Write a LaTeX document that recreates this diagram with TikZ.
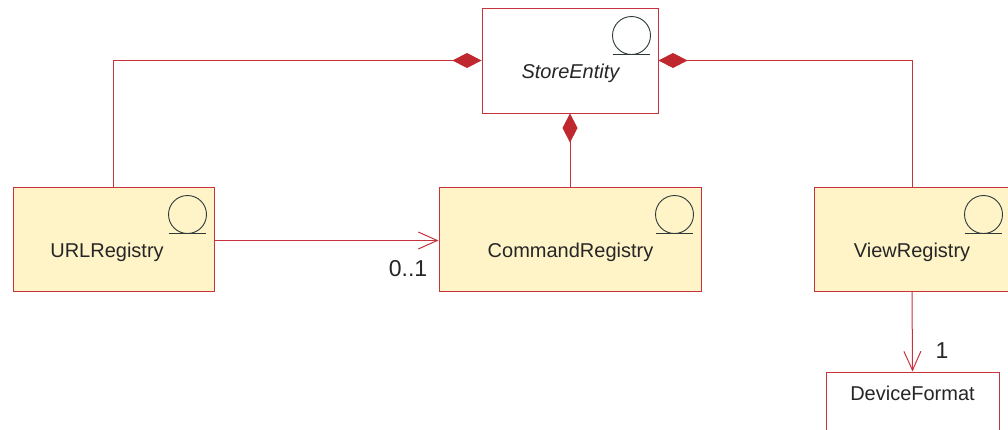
\documentclass[tikz,border=0pt]{standalone}
\usepackage{fontspec}
\setmainfont{Liberation Sans}
\usetikzlibrary{arrows.meta,calc}
\definecolor{umlred}{HTML}{C8323C}
\definecolor{diared}{HTML}{C0282F}
\definecolor{umlfill}{HTML}{FFF3C8}
\definecolor{icongray}{HTML}{2E3A3A}
\tikzset{
  clsbox/.style={draw=umlred, line width=1pt, inner sep=0pt, minimum height=104pt},
  entbox/.style={clsbox, fill=umlfill},
  lbl/.style={font=\fontsize{20}{24}\selectfont, text=black!85, inner sep=0pt},
  mult/.style={font=\fontsize{23}{27}\selectfont, text=black!85, inner sep=0pt},
  conn/.style={draw=umlred, line width=1pt},
  comp/.style={conn, {Diamond[length=29pt,width=15pt,fill=diared,color=diared]}-},
  nav/.style={conn, -{Straight Barb[length=19pt,width=17pt,line width=1pt]}},
  icon/.style={draw=icongray, line width=0.9pt}
}
\begin{document}
\begin{tikzpicture}[x=1pt,y=-1pt]
\useasboundingbox (0,0) rectangle (1008,429);
\clip (0,0) rectangle (1008,429);
% boxes
\node[clsbox, fill=white, minimum width=176pt, minimum height=105pt] (se) at (570,60.5) {};
\node[entbox, minimum width=201pt] (url) at (113.5,239) {};
\node[entbox, minimum width=262pt] (cmd) at (570,239) {};
\node[entbox, minimum width=196pt] (view) at (912,239) {};
\node[clsbox, fill=white, minimum width=173pt, minimum height=78pt] (df) at (912.5,411) {};
% labels
\node[lbl, font=\fontsize{20}{24}\selectfont\itshape] (setext) at (570.5,73) {StoreEntity};
\node[lbl] (urltext) at (107,252) {URLRegistry};
\node[lbl] (cmdtext) at (570.5,252) {CommandRegistry};
\node[lbl] (viewtext) at (912,252) {ViewRegistry};
\node[lbl] (dftext) at (912.5,393) {DeviceFormat};
% icons
\foreach \n in {se,url,cmd,view}{
  \draw[icon] ($(\n.north east)+(-27,28)$) circle (19pt);
  \draw[icon] ($(\n.north east)+(-46,46.5)$) -- ($(\n.north east)+(-9,46.5)$);
}
% connectors
\draw[comp] (se.west) -| (url.north);
\draw[comp] (se.east) -| (view.north);
\draw[comp] (se.south) -- (cmd.north);
\draw[nav] (url.east |- 0,240.5) coordinate (ua) -- (cmd.west |- ua);
\draw[nav] (view.south) -- (df.north);
% multiplicities
\node[mult] (m01) at (408,268.5) {0..1};
\node[mult] (m1) at (942,351) {1};
\end{tikzpicture}
\end{document}
